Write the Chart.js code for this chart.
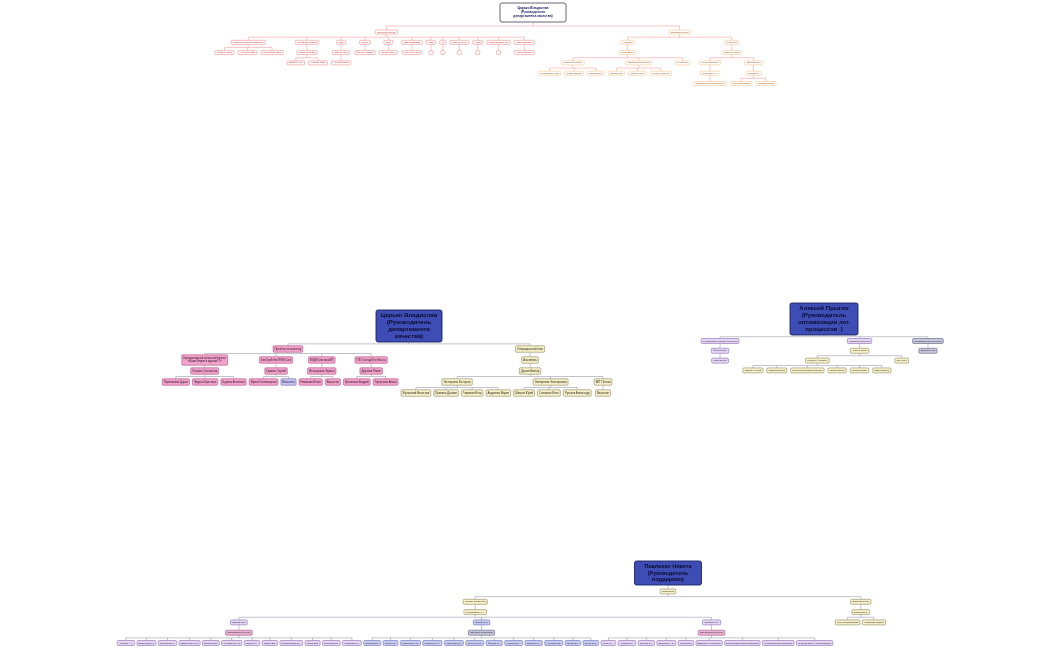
<!DOCTYPE html>
<html>
<head>
<meta charset="utf-8">
<script src="https://cdn.jsdelivr.net/npm/chart.js@4.4.0/dist/chart.umd.min.js"></script>
<style>
  html, body { margin: 0; padding: 0; background: #fff; }
  #wrap { width: 1050px; height: 650px; }
</style>
</head>
<body>
<div id="wrap"><canvas id="orgChart"></canvas></div>
<script>
// node helper: label (string or lines), style key, children
const N = (label, style, ...kids) => ({ label, style, kids });
const leaves = (names, style) => names.map(n => N(n, style));

const smallProjects = ['Внедрение системы DVS/Bluefolks', 'Обновление сервисов', 'ЕЭВС', 'Стенды', 'Звуки', 'Сайт в воспитании',
    'Хобби', 'Ав', 'Отчеты о тренде', 'Анкета', 'Профориентация тест', 'Новостной портал'];
const smallLeads = ['Кузьмина Карина', 'Петров Станислав', 'Зайцева Ольга', 'Фадеева Кристина', 'Калинина Дарья', 'Горбунова Алиса',
    '', '', '', '', '', 'Новостной портал'];

const qualitySmall = N(['Царько Владислав', '(Руководитель', 'департамента качества)'], 'rootW',
    N('Проекты по качеству', 'r',
        N(smallProjects[0], 'r', ...leaves(['Кузьмина Карина', 'Алексеева Юлия', 'Котельникова Ирина'], 'r')),
        N(smallProjects[1], 'r', N(smallLeads[1], 'r', ...leaves(['Данилов Антон', 'Андреева Мария'], 'r'))),
        N(smallProjects[2], 'r', N(smallLeads[2], 'r', N('Курочкина Мария', 'r'))),
        ...smallProjects.slice(3).map((p, i) => N(p, 'r', N(smallLeads[i + 3], 'r')))
    ),
    N('Операционный блок', 'o',
        N('Аналитика', 'o', N('Дугаев Виктор', 'o',
            N('Экспертиза Контроль', 'o', ...leaves(['Жуковский Вячеслав', 'Правило Даниил', 'Гаврилов Егор'], 'o')),
            N('Экспертиза Электроника', 'o', ...leaves(['Шатров Юрий', 'Соловьев Илья', 'Русаков Александр'], 'o')),
            N('ВКТ Потоки', 'o')
        )),
        N('Поддержка', 'o', N('Павленко Никита', 'o',
            N('Контакт-поддержка', 'o', N('Супервайзер Х.Х.', 'o', N('Операционный центр поддержки', 'o'))),
            N('Видеопродукты', 'o', N('Захаров Е.С.', 'o', ...leaves(['Петухов Владислав', 'Котлярова Лариса'], 'o')))
        ))
    )
);

const qualityTree = N(['Царько Владислав', '(Руководитель', 'департамента', 'качества)'], 'root',
    N('Проекты по качеству', 'p',
        N(['Корпоративный облачный бизнес', '«Чамп/Элкрм в здании IT»'], 'p',
            N('Латохин Станислав', 'p', ...leaves(['Перевалова Дарья', 'Федина Кристина', 'Царева Ангелина'], 'p'))),
        N('DevOps/Infra/ITSM Core', 'p', N('Гришин Сергей', 'p', N('Ирина Головащенко', 'p'), N('Вакансия', 'v'))),
        N('ВЭД/Логистика/ИТ', 'p', N('Исмагулова Зарина', 'p', ...leaves(['Новикова Юлия', 'Вакансия'], 'p'))),
        N('ПЗО Склад/Учет/Касса', 'p', N('Дорохов Павел', 'p', ...leaves(['Кротолова Андрей', 'Горбунова Алиса'], 'p')))
    ),
    N('Операционный блок', 'c', N('Аналитика', 'c', N('Дугаев Виктор', 'c',
        N('Экспертиза Контроль', 'c', ...leaves(['Жуковский Вячеслав', 'Правило Даниил', 'Гаврилов Егор', 'Андреева Мария'], 'c')),
        N('Экспертиза Электроника', 'c', ...leaves(['Шатров Юрий', 'Соловьев Илья', 'Русаков Александр'], 'c')),
        N('ВКТ Потоки', 'c', N('Вакансия', 'c'))
    )))
);

const logisticsTree = N(['Алексей Прыгин', '(Руководитель', 'оптимизации лог.', 'процессов  )'], 'root',
    N('Оптимизация складских процессов', 'l', N('Фёдоров Олег', 'l', N('Сухов Сергей', 'l'))),
    N('Разработка процесса', 'l', N('Андреев Павел', 'c',
        N('Стребков Александр', 'c', ...leaves(['Смирнов Андрей', 'Романова Ирина', 'Погребняк Людмила Ивановна',
            'Ковалев Денис', 'Яковлев Роман', 'Зайцева Дарья'], 'c')),
        N('Зуев Илья', 'c')
    )),
    N('Оптимизация ТС процессов', 'g', N('Захарова Анна', 'g'))
);

const leavesA = ['Антонов А.А.', 'Белоусов В.Н.', 'Гончаренко К.', 'Давыденко М.И.', 'Егоров Ю.В.', 'Жуковская Н.П.',
    'Зимин С.А.', 'Ильин Д.В.', 'Калашникова Т.Н.', 'Лосев Д.В.', 'Макаров Р.И.', 'Назарова Е.А.'];
const leavesB = ['Орлова И.П.', 'Панов С.Г.', 'Родионова А.Е.', 'Савельев П.А.', 'Тарасова Л.М.', 'Ульянов М.И.',
    'Фролов Г.Н.', 'Харитонов А.', 'Цветков Н.А.', 'Чернова О.В.', 'Шубин В.К.', 'Щукин Е.С.'];
const leavesC = ['Яшин С.А.', 'Абрамов Р.А.', 'Быкова Т.Н.', 'Власенко А.С.', 'Гусев Илья', 'Дмитриев Александр',
    'Ершова Валентина Ивановна', 'Жданова Ирина Петровна', 'Зубкова Ольга Александровна'];

const supportTree = N(['Павленко Никита', '(Руководитель', 'поддержки)'], 'root',
    N('Поддержка', 'c',
        N('Контакт-поддержка', 'c', N('Супервайзер Х.Х.', 'c',
            N('Иванов И.И.', 'l', N('Операционный центр', 'pk', ...leaves(leavesA, 'l'))),
            N('Петров П.П.', 'b', N('Оператор поддержки', 'bg', ...leaves(leavesB, 'b'))),
            N('Сидоров С.С.', 'l', N('Операционный центр', 'pk', ...leaves(leavesC, 'l')))
        )),
        N('Видеопродукты', 'c', N('Захаров Е.С.', 'c', ...leaves(['Петухов Владислав', 'Котлярова Лариса'], 'c')))
    )
);

const styles = {
    root:  { fill: '#3d4db5', stroke: '#1d2460', text: '#0b0b2a', bold: true },
    rootW: { fill: '#ffffff', stroke: '#55556a', text: '#1d2460', bold: true },
    r:  { fill: '#ffffff', stroke: '#f08a8a', text: '#a03030' },
    o:  { fill: '#ffffff', stroke: '#f5c38e', text: '#805020' },
    p:  { fill: '#f2a3cc', stroke: '#b05585', text: '#2a1020' },
    v:  { fill: '#c7c2f2', stroke: '#6d64b0', text: '#201850' },
    c:  { fill: '#f6f0cb', stroke: '#8f8a62', text: '#2a2810' },
    l:  { fill: '#e4d6f4', stroke: '#8a70b0', text: '#201830' },
    g:  { fill: '#c8c6dc', stroke: '#606078', text: '#202030' },
    b:  { fill: '#c9ccf2', stroke: '#6b70b8', text: '#202040' },
    bg: { fill: '#c6c6dc', stroke: '#5c5c78', text: '#202030' },
    pk: { fill: '#eab4d2', stroke: '#9a5580', text: '#2a1020' }
};

const treeSettings = [
    { tree: qualitySmall, cx: 533, top: 3, rootW: 66, rootH: 19, rootFont: 3.3, font: 1.9, boxH: 4, padX: 2, gap: 2, first: 10, step: 10.3, line: '#f5a0a0' },
    { tree: qualityTree, cx: 409, top: 310, rootW: 66, rootH: 32, rootFont: 6, font: 2.75, boxH: 6.5, padX: 1.5, gap: 1.5, first: 7, step: 11, line: '#9a9ab0' },
    { tree: logisticsTree, cx: 824, top: 303, rootW: 68, rootH: 32, rootFont: 6, font: 2.1, boxH: 5, padX: 1.8, gap: 2, first: 6, step: 9.8, line: '#9a9ab0' },
    { tree: supportTree, cx: 668, top: 561, rootW: 67, rootH: 24, rootFont: 5.5, font: 2.3, boxH: 5, padX: 1.8, gap: 1.2, first: 6.5, step: 10.3, line: '#9a9ab0' }
];

const mctx = document.createElement('canvas').getContext('2d');
const FONT = '"Liberation Sans", Arial, sans-serif';

function build(raw, cfg, depth) {
    const lines = Array.isArray(raw.label) ? raw.label : [raw.label];
    const n = { lines, style: raw.style, depth, kids: raw.kids.map(k => build(k, cfg, depth + 1)) };
    if (depth === 0) { n.w = cfg.rootW; n.h = cfg.rootH; }
    else {
        mctx.font = cfg.font + 'px ' + FONT;
        n.w = Math.max(4, Math.max(...lines.map(t => mctx.measureText(t).width)) + cfg.padX * 2);
        n.h = cfg.boxH * (lines.length > 1 ? 1.6 : 1);
    }
    n.kidSpan = n.kids.reduce((s, k) => s + k.span, 0) + cfg.gap * Math.max(0, n.kids.length - 1);
    n.span = Math.max(n.w + cfg.gap, n.kidSpan);
    return n;
}

function place(n, left, cfg, out) {
    if (n.kids.length) {
        let x = left + (n.span - n.kidSpan) / 2;
        n.kids.forEach(k => { place(k, x, cfg, out); x += k.span + cfg.gap; });
        n.x = (n.kids[0].x + n.kids[n.kids.length - 1].x) / 2;
    } else n.x = left + n.span / 2;
    n.y = n.depth === 0 ? cfg.top + cfg.rootH / 2 : cfg.top + cfg.rootH + cfg.first + (n.depth - 1) * cfg.step;
    out.push(n);
}

const allNodes = [];
treeSettings.forEach(cfg => {
    const root = build(cfg.tree, cfg, 0);
    const list = [];
    place(root, 0, cfg, list);
    const dx = cfg.cx - root.x;
    list.forEach(n => { n.x += dx; n.cfg = cfg; });
    allNodes.push(...list);
});

const orgPlugin = {
    id: 'orgBoxes',
    afterDatasetsDraw(chart) {
        const { ctx, scales: { x, y } } = chart;
        const px = v => x.getPixelForValue(v), py = v => y.getPixelForValue(v);
        ctx.save();
        // connectors
        allNodes.forEach(n => {
            if (!n.kids.length) return;
            const bottom = n.y + n.h / 2;
            const mid = (bottom + n.kids[0].y - n.kids[0].h / 2) / 2;
            ctx.strokeStyle = n.cfg.line;
            ctx.lineWidth = 0.6;
            ctx.beginPath();
            ctx.moveTo(px(n.x), py(bottom)); ctx.lineTo(px(n.x), py(mid));
            ctx.moveTo(px(n.kids[0].x), py(mid)); ctx.lineTo(px(n.kids[n.kids.length - 1].x), py(mid));
            n.kids.forEach(k => { ctx.moveTo(px(k.x), py(mid)); ctx.lineTo(px(k.x), py(k.y - k.h / 2)); });
            ctx.stroke();
        });
        // boxes
        allNodes.forEach(n => {
            const st = styles[n.style], cfg = n.cfg;
            const l = px(n.x - n.w / 2), t = py(n.y - n.h / 2);
            ctx.fillStyle = st.fill;
            ctx.strokeStyle = st.stroke;
            ctx.lineWidth = n.depth === 0 ? 0.9 : 0.6;
            ctx.beginPath();
            ctx.roundRect(l, t, n.w, n.h, n.depth === 0 ? 2 : 1);
            ctx.fill(); ctx.stroke();
            const fs = n.depth === 0 ? cfg.rootFont : cfg.font;
            ctx.font = (st.bold ? 'bold ' : '') + fs + 'px ' + FONT;
            ctx.fillStyle = st.text;
            ctx.textAlign = 'center';
            ctx.textBaseline = 'middle';
            const lh = fs * 1.2;
            n.lines.forEach((s, i) => ctx.fillText(s, px(n.x), py(n.y) + (i - (n.lines.length - 1) / 2) * lh));
        });
        ctx.restore();
    }
};

new Chart(document.getElementById('orgChart'), {
    type: 'scatter',
    data: { datasets: [{ data: allNodes.map(n => ({ x: n.x, y: n.y })), pointRadius: 0 }] },
    options: {
        responsive: true,
        maintainAspectRatio: false,
        animation: false,
        layout: { padding: 0 },
        plugins: { legend: { display: false }, tooltip: { enabled: false } },
        scales: {
            x: { type: 'linear', min: 0, max: 1050, display: false },
            y: { type: 'linear', min: 0, max: 650, reverse: true, display: false }
        }
    },
    plugins: [orgPlugin]
});
</script>
</body>
</html>
